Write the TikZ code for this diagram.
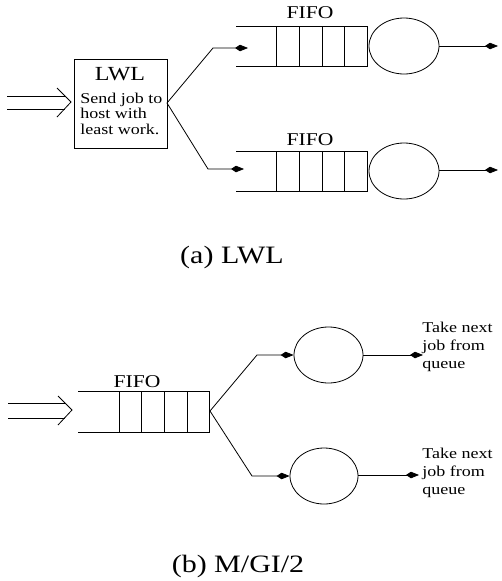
\documentclass[tikz,border=0pt]{standalone}
\usepackage{fontspec}
\setmainfont{Liberation Serif}
\usetikzlibrary{arrows.meta,shapes.geometric}
\newcommand\hs[1]{\scalebox{1.2}[1]{#1}}
\begin{document}
\begin{tikzpicture}[x=1pt,y=-1pt,line width=0.8pt,
  jobtip/.style={-{Kite[length=13pt,width=6.5pt,inset=5pt]}},
  server/.style={draw,ellipse,minimum width=70pt,minimum height=56pt,inner sep=0pt},
  fifolbl/.style={inner sep=0pt,anchor=base,font=\fontsize{18}{20}\selectfont},
  caplbl/.style={inner sep=0pt,anchor=base,font=\fontsize{25}{28}\selectfont},
  smalltxt/.style={inner sep=0pt,anchor=base west,align=left,font=\fontsize{15}{15.5}\selectfont},
  taketxt/.style={inner sep=0pt,anchor=base west,align=left,font=\fontsize{15}{18}\selectfont},
  lwlbox/.style={draw,minimum width=93pt,minimum height=89pt,inner sep=0pt,anchor=north west}
]
\useasboundingbox (0,0) rectangle (501,581);

% ---------- (a) LWL ----------
% input double arrow
\coordinate (inA1) at (7,96);
\coordinate (inA2) at (7,109);
\coordinate (chA1) at (57,88);
\coordinate (chA0) at (71,102);
\coordinate (chA2) at (57,117);
\draw (inA1) -- (65,96);
\draw (inA2) -- (65,109);
\draw (chA1) -- (chA0) -- (chA2);

% LWL box
\node[lwlbox] (lwl) at (74,59) {};
\node[inner sep=0pt,anchor=base,font=\fontsize{20}{22}\selectfont] (lwlt) at (120,80) {\hs{LWL}};
\node[smalltxt] (lwld) at (80,134) {\hs{Send job to}\\\hs{host with}\\\hs{least work.}};

% queues
\foreach \qy in {26,151}{
  \draw (236,\qy) -- ++(131,0) -- ++(0,40) -- ++(-131,0);
  \foreach \dx in {40,63,86,108}{\draw (236+\dx,\qy) -- ++(0,40);}
}
\node[fifolbl] (fA1) at (310,18.5) {\hs{FIFO}};
\node[fifolbl] (fA2) at (310,145) {\hs{FIFO}};

% servers
\node[server] (sA1) at (404,46) {};
\node[server] (sA2) at (404,171) {};

% dispatch connectors
\coordinate (dA) at (167,103);
\coordinate (bA1) at (213,48);
\coordinate (qA1) at (248,48);
\coordinate (bA2) at (208,169);
\coordinate (qA2) at (244,169);
\draw[jobtip] (dA) -- (bA1) -- (qA1);
\draw[jobtip] (dA) -- (bA2) -- (qA2);

% outputs
\coordinate (oA1) at (498,46);
\coordinate (oA2) at (498,170);
\draw[jobtip] (sA1.east |- oA1) -- (oA1);
\draw[jobtip] (sA2.east |- oA2) -- (oA2);

\node[caplbl] (capA) at (232,263) {\hs{(a) LWL}};

% ---------- (b) M/GI/2 ----------
\coordinate (inB1) at (8,403);
\coordinate (inB2) at (8,418);
\coordinate (chB1) at (58,396);
\coordinate (chB0) at (72,410);
\coordinate (chB2) at (58,425);
\draw (inB1) -- (65,403);
\draw (inB2) -- (65,418);
\draw (chB1) -- (chB0) -- (chB2);

\draw (78,391) -- ++(131,0) -- ++(0,41) -- ++(-131,0);
\foreach \dx in {41,63,86,109}{\draw (78+\dx,391) -- ++(0,41);}
\node[fifolbl] (fB) at (137,387) {\hs{FIFO}};

\node[server,minimum width=69pt] (sB1) at (328.5,355) {};
\node[server,minimum width=68pt] (sB2) at (324,476) {};

\coordinate (dB) at (210,411);
\coordinate (bB1) at (257,355);
\coordinate (bB2) at (252,476);
\draw[jobtip] (dB) -- (bB1) -- (sB1.west);
\draw[jobtip] (dB) -- (bB2) -- (sB2.west);

\coordinate (oB1) at (423,355);
\coordinate (oB2) at (419,475);
\draw[jobtip] (sB1.east |- oB1) -- (oB1);
\draw[jobtip] (sB2.east |- oB2) -- (oB2);

\node[taketxt] (tB1) at (422,368) {\hs{Take next}\\\hs{job from}\\\hs{queue}};
\node[taketxt] (tB2) at (422,494) {\hs{Take next}\\\hs{job from}\\\hs{queue}};

\node[caplbl] (capB) at (238,572) {\hs{(b) M/GI/2}};
\end{tikzpicture}
\end{document}
